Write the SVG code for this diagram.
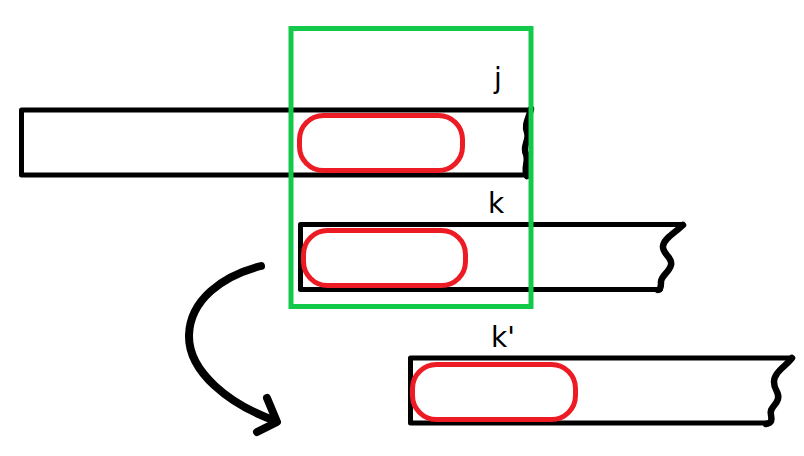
<svg xmlns="http://www.w3.org/2000/svg" width="804" height="456" viewBox="0 0 804 456">
<style>
.bar{fill:none;stroke:#000;stroke-width:5;stroke-linejoin:round;stroke-linecap:round}
.wave{fill:none;stroke:#000;stroke-width:6.5;stroke-linecap:round;stroke-linejoin:round}
.hl{fill:none;stroke:#ed1c24;stroke-width:5}
.lbl{font-family:"DejaVu Sans",sans-serif;font-size:28px;fill:#000}
</style>
<rect width="804" height="456" fill="#fff"/>
<g id="bar-j">
<path class="bar" d="M529 110 L21.5 110 L21.5 175 L527 175"/>
<path class="wave" d="M531 109 C529 118 524 124 527 132 C530 140 522 146 526 154 C529 162 523 168 527 176"/>
<rect class="hl" x="299.5" y="115.5" width="163" height="55" rx="24"/>
<text class="lbl" x="494" y="88">j</text>
</g>
<g id="bar-k">
<path class="bar" d="M682 224.5 L300.5 224.5 L300.5 289.5 L660 289.5"/>
<path class="wave" d="M683 225 C676 232 664 238 663 246 C662 254 673 257 671 265 C669 273 660 276 661 283 C661 287 660 290 658 290"/>
<rect class="hl" x="303.5" y="230.5" width="162" height="55" rx="24"/>
<text class="lbl" x="488" y="213">k</text>
</g>
<g id="bar-k-prime">
<path class="bar" d="M791 358 L410.5 358 L410.5 423 L767 423"/>
<path class="wave" d="M792 358 C786 366 774 372 774 382 C774 391 780 392 778 399 C776 406 769 408 771 415 C772 420 772 423 766 424"/>
<rect class="hl" x="412.5" y="364.5" width="163" height="55" rx="24"/>
<text class="lbl" x="491" y="347">k'</text>
</g>
<g id="window">
<rect x="291" y="28.5" width="240" height="278" fill="none" stroke="#12c94a" stroke-width="5"/>
</g>
<g id="connectors">
<path d="M261 266 C222 276 190 300 189 335 C188 372 230 405 276 421" fill="none" stroke="#000" stroke-width="8" stroke-linecap="round"/>
<path d="M267 398 L277 422 L257 432" fill="none" stroke="#000" stroke-width="8" stroke-linecap="round" stroke-linejoin="round"/>
</g>
</svg>
